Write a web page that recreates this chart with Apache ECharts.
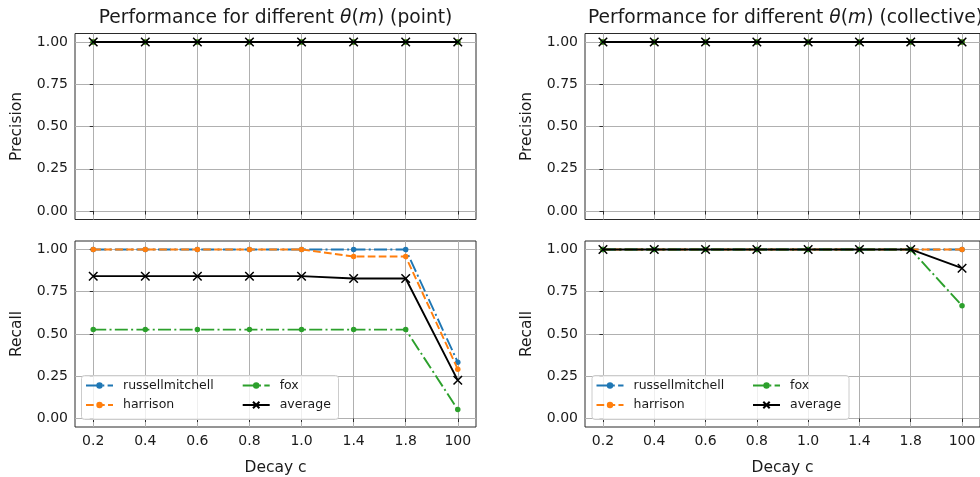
<!DOCTYPE html>
<html>
<head>
<meta charset="utf-8">
<script src="https://cdn.jsdelivr.net/npm/echarts@6/dist/echarts.min.js"></script>
<style>
  html, body { margin: 0; padding: 0; background: #ffffff; }
  #chart { width: 980px; height: 477px; }
</style>
</head>
<body>
<div id="chart"></div>
<script>
// Decay values along the x axis (shown as evenly spaced categories)
const decayLabels = ['0.2', '0.4', '0.6', '0.8', '1.0', '1.4', '1.8', '100'];
const yTickValues = [0, 0.25, 0.5, 0.75, 1.0];
const seriesNames = ['russellmitchell', 'harrison', 'fox', 'average'];

// Point anomalies
const pointPrecisionRussellmitchell = [1, 1, 1, 1, 1, 1, 1, 1];
const pointPrecisionHarrison        = [1, 1, 1, 1, 1, 1, 1, 1];
const pointPrecisionFox             = [1, 1, 1, 1, 1, 1, 1, 1];
const pointPrecisionAverage         = [1, 1, 1, 1, 1, 1, 1, 1];

const pointRecallRussellmitchell = [1, 1, 1, 1, 1, 1, 1, 0.333];
const pointRecallHarrison        = [1, 1, 1, 1, 1, 0.958, 0.958, 0.292];
const pointRecallFox             = [0.526, 0.526, 0.526, 0.526, 0.526, 0.526, 0.526, 0.053];
const pointRecallAverage         = [0.842, 0.842, 0.842, 0.842, 0.842, 0.828, 0.828, 0.226];

// Collective anomalies
const collectivePrecisionRussellmitchell = [1, 1, 1, 1, 1, 1, 1, 1];
const collectivePrecisionHarrison        = [1, 1, 1, 1, 1, 1, 1, 1];
const collectivePrecisionFox             = [1, 1, 1, 1, 1, 1, 1, 1];
const collectivePrecisionAverage         = [1, 1, 1, 1, 1, 1, 1, 1];

const collectiveRecallRussellmitchell = [1, 1, 1, 1, 1, 1, 1, 1];
const collectiveRecallHarrison        = [1, 1, 1, 1, 1, 1, 1, 1];
const collectiveRecallFox             = [1, 1, 1, 1, 1, 1, 1, 0.667];
const collectiveRecallAverage         = [1, 1, 1, 1, 1, 1, 1, 0.889];

const FONT = 'DejaVu Sans';
const TEXT = '#1a1a1a';
const SPINE = '#2a2a2a';
const GRIDLINE = '#b0b0b0';
const TICK_FONT = 14;
const LABEL_FONT = 15.5;
const TITLE_FONT = 18.7;
const LEGEND_FONT = 12.5;

const DASHDOT = [13, 3.3, 2, 3.3];
const DASHED = [7.7, 3.3];
const X_MARK = 'path://M0 0L10 10M10 0L0 10';

const styles = {
  russellmitchell: { color: '#1f77b4', dash: DASHDOT, symbol: 'circle', size: 5.5 },
  harrison:        { color: '#ff7f0e', dash: DASHED,  symbol: 'circle', size: 5.5 },
  fox:             { color: '#2ca02c', dash: DASHDOT, symbol: 'circle', size: 5.5 },
  average:         { color: '#000000', dash: 'solid', symbol: X_MARK,   size: 8.5 }
};

const panels = [
  { grid: 0, values: [pointPrecisionRussellmitchell, pointPrecisionHarrison, pointPrecisionFox, pointPrecisionAverage] },
  { grid: 1, values: [pointRecallRussellmitchell, pointRecallHarrison, pointRecallFox, pointRecallAverage] },
  { grid: 2, values: [collectivePrecisionRussellmitchell, collectivePrecisionHarrison, collectivePrecisionFox, collectivePrecisionAverage] },
  { grid: 3, values: [collectiveRecallRussellmitchell, collectiveRecallHarrison, collectiveRecallFox, collectiveRecallAverage] }
];

const xIndexTicks = decayLabels.map((_, i) => i);

// plot boxes: point/top, point/bottom, collective/top, collective/bottom
const gridBoxes = [
  { left: 75,  top: 33.5 },
  { left: 75,  top: 241 },
  { left: 585, top: 33.5 },
  { left: 585, top: 241 }
];

const grids = gridBoxes.map(b => ({
  left: b.left, top: b.top, width: 401, height: 186,
  show: true, borderColor: SPINE, borderWidth: 1, backgroundColor: 'transparent'
}));

const xAxes = gridBoxes.map((b, i) => {
  const bottomRow = (i % 2 === 1);
  return {
    type: 'value', gridIndex: i, min: -0.35, max: 7.35,
    axisLine: { show: false },
    axisTick: { show: true, customValues: xIndexTicks, length: 3.5, lineStyle: { color: SPINE, width: 1 } },
    axisLabel: {
      show: bottomRow, customValues: xIndexTicks, margin: 7,
      formatter: v => decayLabels[Math.round(v)] || '',
      fontFamily: FONT, fontSize: TICK_FONT, color: TEXT
    },
    splitLine: { show: true, lineStyle: { color: GRIDLINE, width: 1 } },
    name: bottomRow ? 'Decay c' : '',
    nameLocation: 'middle', nameGap: 33,
    nameTextStyle: { fontFamily: FONT, fontSize: LABEL_FONT, color: TEXT }
  };
});

const yAxes = gridBoxes.map((b, i) => ({
  type: 'value', gridIndex: i, min: -0.05, max: 1.05,
  axisLine: { show: false },
  axisTick: { show: true, customValues: yTickValues, length: 3.5, lineStyle: { color: SPINE, width: 1 } },
  axisLabel: {
    customValues: yTickValues, margin: 7,
    formatter: v => v.toFixed(2),
    fontFamily: FONT, fontSize: TICK_FONT, color: TEXT
  },
  splitLine: { show: true, lineStyle: { color: GRIDLINE, width: 1 } },
  name: (i % 2 === 0) ? 'Precision' : 'Recall',
  nameLocation: 'middle', nameGap: 50,
  nameTextStyle: { fontFamily: FONT, fontSize: LABEL_FONT, color: TEXT }
}));

const series = [];
panels.forEach(p => {
  seriesNames.forEach((name, k) => {
    const s = styles[name];
    const isX = (name === 'average');
    series.push({
      type: 'line', name: name,
      xAxisIndex: p.grid, yAxisIndex: p.grid,
      data: p.values[k].map((v, i) => [i, v]),
      symbol: s.symbol, symbolSize: s.size, showAllSymbol: true,
      lineStyle: { color: s.color, width: 1.9, type: s.dash },
      itemStyle: isX
        ? { color: 'rgba(0,0,0,0)', borderColor: s.color, borderWidth: 1.5 }
        : { color: s.color, borderColor: s.color, borderWidth: 0 },
      emphasis: { disabled: true },
      animation: false,
      z: 3 + k
    });
  });
});

// Legend: two columns inside one framed box (lower left of each recall plot)
const legendColumn = (left, names) => ({
  data: names,
  orient: 'vertical', left: left, top: 379,
  itemWidth: 27, itemHeight: 8, itemGap: 6.5,
  padding: 0,
  selectedMode: false,
  z: 6,
  textStyle: { fontFamily: FONT, fontSize: LEGEND_FONT, color: TEXT, padding: [0, 0, 0, 5] }
});

const legendFrame = left => ({
  type: 'rect', left: left, top: 375, z: 5,
  shape: { width: 257, height: 44, r: 3 },
  style: { fill: 'rgba(255,255,255,0.8)', stroke: '#cccccc', lineWidth: 1 }
});

const titleRich = {
  i: { fontStyle: 'italic', fontFamily: FONT, fontSize: TITLE_FONT, color: TEXT }
};
const makeTitle = (text, center) => ({
  text: text, left: center, top: 9, textAlign: 'center', padding: 0,
  textStyle: { fontFamily: FONT, fontSize: TITLE_FONT, fontWeight: 'normal', color: TEXT, rich: titleRich }
});

const chart = echarts.init(document.getElementById('chart'), null, { renderer: 'canvas' });
chart.setOption({
  animation: false,
  backgroundColor: '#ffffff',
  title: [
    makeTitle('Performance for different {i|θ}({i|m}) (point)', 275.5),
    makeTitle('Performance for different {i|θ}({i|m}) (collective)', 785.5)
  ],
  graphic: [legendFrame(81), legendFrame(591.5)],
  legend: [
    legendColumn(85, ['russellmitchell', 'harrison']),
    legendColumn(241.7, ['fox', 'average']),
    legendColumn(595.5, ['russellmitchell', 'harrison']),
    legendColumn(752, ['fox', 'average'])
  ],
  grid: grids,
  xAxis: xAxes,
  yAxis: yAxes,
  series: series
});
</script>
</body>
</html>
